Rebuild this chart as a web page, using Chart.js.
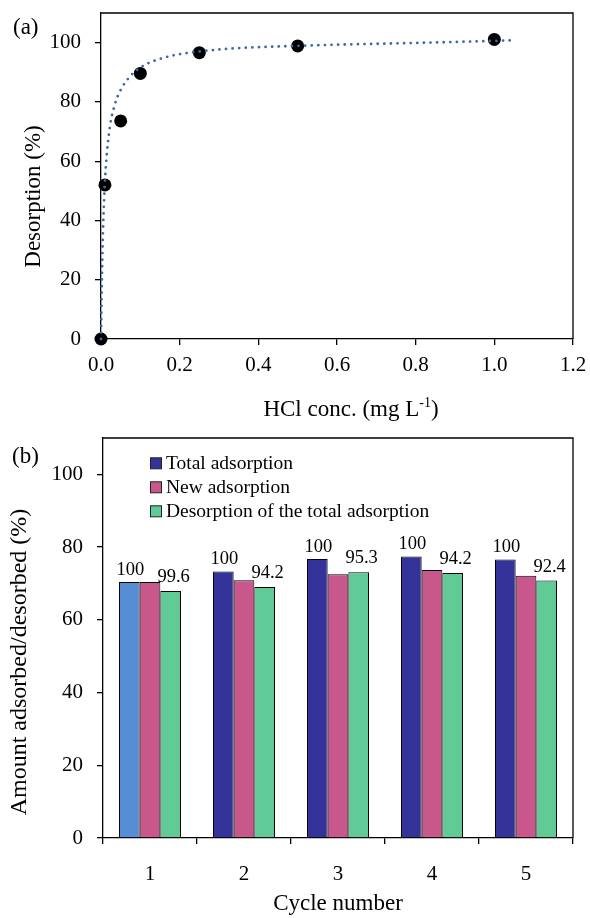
<!DOCTYPE html>
<html>
<head>
<meta charset="utf-8">
<script src="https://cdn.jsdelivr.net/npm/chart.js@4.4.0/dist/chart.umd.min.js"></script>
<style>
  html, body { margin: 0; padding: 0; background: #fff; }
  canvas { display: block; }
</style>
</head>
<body>
<canvas id="chartA" width="590" height="430"></canvas>
<canvas id="chartB" width="590" height="488"></canvas>
<script>
// (a) desorption vs HCl concentration
const hclConc = [0, 0.01, 0.05, 0.1, 0.25, 0.5, 1.0];
const desorption = [0, 52, 73.6, 89.6, 96.6, 98.9, 101.1];
// dotted fit curve
const fitConc = [0, 0.002, 0.005, 0.01, 0.02, 0.035, 0.05, 0.07, 0.1, 0.13, 0.18, 0.25, 0.33, 0.45, 0.6, 0.8, 1.0, 1.05];
const fitDesorption = [0, 18, 36, 53, 69, 79, 84, 88, 91.6, 93.6, 95.6, 97.0, 98.0, 98.7, 99.3, 99.9, 100.6, 100.8];
const xTicksA = [0, 0.2, 0.4, 0.6, 0.8, 1.0, 1.2];
const yTicks = [0, 20, 40, 60, 80, 100];

// (b) adsorption / desorption cycles
const cycles = ['1', '2', '3', '4', '5'];
const totalAdsorption = [70.4, 73.3, 76.7, 77.4, 76.6];
const newAdsorption = [70.4, 70.9, 72.5, 73.7, 72.1];
const desorptionOfTotal = [67.9, 69.0, 73.1, 72.9, 70.8];
const totalLabels = ['100', '100', '100', '100', '100'];
const desorptionLabels = ['99.6', '94.2', '95.3', '94.2', '92.4'];

const serif = "'Liberation Serif', 'Times New Roman', serif";
Chart.defaults.font.family = serif;
Chart.defaults.color = '#000';

const navy = '#333399';
const lightBlue = '#558ed5';
const pink = '#c8588c';
const green = '#60cb96';

// top and right border of the plot box
const frame = {
  id: 'frame',
  beforeDatasetsDraw(chart) {
    const { ctx, chartArea: a } = chart;
    ctx.save();
    ctx.strokeStyle = '#000';
    ctx.lineWidth = 1.3;
    ctx.beginPath();
    ctx.moveTo(a.left, a.top);
    ctx.lineTo(a.right, a.top);
    ctx.lineTo(a.right, a.bottom);
    ctx.stroke();
    ctx.restore();
  }
};

// panel letter and rotated y title
const panelText = {
  id: 'panelText',
  afterDraw(chart, args, opts) {
    const { ctx, chartArea: a } = chart;
    ctx.save();
    ctx.fillStyle = '#000';
    ctx.font = '23px ' + serif;
    ctx.textAlign = 'left';
    ctx.textBaseline = 'alphabetic';
    ctx.fillText(opts.panel, opts.panelX, opts.panelY);

    if (opts.xTitle) {
      // title with a superscript part
      const big = '23px ' + serif, small = '14px ' + serif;
      ctx.font = big;
      const w1 = ctx.measureText(opts.xTitle[0]).width;
      const w3 = ctx.measureText(opts.xTitle[2]).width;
      ctx.font = small;
      const w2 = ctx.measureText(opts.xTitle[1]).width;
      let x = opts.xTitleX - (w1 + w2 + w3) / 2;
      ctx.font = big;
      ctx.fillText(opts.xTitle[0], x, opts.xTitleY);
      x += w1;
      ctx.font = small;
      ctx.fillText(opts.xTitle[1], x, opts.xTitleY - 9);
      x += w2;
      ctx.font = big;
      ctx.fillText(opts.xTitle[2], x, opts.xTitleY);
    }

    ctx.translate(opts.yTitleX, (a.top + a.bottom) / 2 + opts.yTitleShift);
    ctx.rotate(-Math.PI / 2);
    ctx.font = opts.yTitleSize + 'px ' + serif;
    ctx.textAlign = 'center';
    ctx.textBaseline = 'middle';
    ctx.fillText(opts.yTitle, 0, 0);
    ctx.restore();
  }
};

const axisGrid = { drawOnChartArea: false, color: '#000', lineWidth: 1.3, tickLength: 6 };
const axisBorder = { color: '#000', width: 1.3 };

function fixX(h) {
  return s => { s.height = h; s.paddingLeft = 0; s.paddingRight = 0; };
}
function fixY(w) {
  return s => { s.width = w; s.paddingTop = 0; s.paddingBottom = 0; };
}

new Chart(document.getElementById('chartA'), {
  type: 'scatter',
  data: {
    datasets: [
      {
        data: fitConc.map((x, i) => ({ x: x, y: fitDesorption[i] })),
        showLine: true,
        pointRadius: 0,
        borderColor: '#3a69a3',
        borderWidth: 2.8,
        borderDash: [0, 6.6],
        borderCapStyle: 'round',
        cubicInterpolationMode: 'monotone',
        clip: false
      },
      {
        data: hclConc.map((x, i) => ({ x: x, y: desorption[i] })),
        showLine: false,
        pointRadius: 6.5,
        pointBackgroundColor: '#000',
        pointBorderColor: '#000',
        pointBorderWidth: 0,
        clip: false
      }
    ]
  },
  options: {
    responsive: false,
    animation: false,
    layout: { padding: { top: 13, right: 17, left: 0, bottom: 0 } },
    plugins: {
      legend: { display: false },
      tooltip: { enabled: false },
      panelText: {
        panel: '(a)', panelX: 13, panelY: 33.5,
        yTitle: 'Desorption (%)', yTitleX: 34, yTitleShift: 20.5, yTitleSize: 23,
        xTitle: ['HCl conc. (mg L', '-1', ')'], xTitleX: 351, xTitleY: 416
      }
    },
    scales: {
      x: {
        type: 'linear',
        min: 0,
        max: 1.2,
        afterBuildTicks(s) { s.ticks = xTicksA.map(v => ({ value: v })); },
        afterFit: fixX(91),
        grid: axisGrid,
        border: axisBorder,
        ticks: { font: { size: 21 }, padding: 8, callback: v => v.toFixed(1) }
      },
      y: {
        min: 0,
        max: 110,
        afterBuildTicks(s) { s.ticks = yTicks.map(v => ({ value: v })); },
        afterFit: fixY(101),
        grid: axisGrid,
        border: axisBorder,
        ticks: { font: { size: 21 }, padding: 14 }
      }
    }
  },
  plugins: [frame, panelText]
});

// value labels over the bars
const barLabels = {
  id: 'barLabels',
  afterDatasetsDraw(chart) {
    const { ctx } = chart;
    ctx.save();
    ctx.font = '18.5px ' + serif;
    ctx.fillStyle = '#000';
    ctx.textAlign = 'center';
    ctx.textBaseline = 'alphabetic';
    chart.getDatasetMeta(0).data.forEach((bar, i) => ctx.fillText(totalLabels[i], bar.x + 1, bar.y - 7.5));
    chart.getDatasetMeta(2).data.forEach((bar, i) => ctx.fillText(desorptionLabels[i], bar.x + 3, bar.y - 9));
    ctx.restore();
  }
};

// legend in the top-left of the plot
const boxLegend = {
  id: 'boxLegend',
  afterDraw(chart) {
    const { ctx } = chart;
    ctx.save();
    ctx.font = '19.5px ' + serif;
    ctx.textAlign = 'left';
    ctx.textBaseline = 'alphabetic';
    chart.data.datasets.forEach((ds, i) => {
      const bg = Array.isArray(ds.backgroundColor) ? ds.backgroundColor[ds.backgroundColor.length - 1] : ds.backgroundColor;
      const y = 39.3 + i * 24;
      ctx.fillStyle = bg;
      ctx.fillRect(150.5, y - 11.5, 11, 11);
      ctx.strokeStyle = '#222';
      ctx.lineWidth = 1;
      ctx.strokeRect(150.5, y - 11.5, 11, 11);
      ctx.fillStyle = '#000';
      ctx.fillText(ds.label, 166, y);
    });
    ctx.restore();
  }
};

new Chart(document.getElementById('chartB'), {
  type: 'bar',
  data: {
    labels: cycles,
    datasets: [
      { label: 'Total adsorption', data: totalAdsorption, backgroundColor: [lightBlue, navy, navy, navy, navy] },
      { label: 'New adsorption', data: newAdsorption, backgroundColor: pink },
      { label: 'Desorption of the total adsorption', data: desorptionOfTotal, backgroundColor: green }
    ]
  },
  options: {
    responsive: false,
    animation: false,
    layout: { padding: { top: 8, right: 17, left: 0, bottom: 0 } },
    datasets: {
      bar: { categoryPercentage: 0.66, barPercentage: 1, borderColor: '#000', borderWidth: 1 }
    },
    plugins: {
      legend: { display: false },
      tooltip: { enabled: false },
      panelText: {
        panel: '(b)', panelX: 12, panelY: 33,
        yTitle: 'Amount adsorbed/desorbed (%)', yTitleX: 20, yTitleShift: 24, yTitleSize: 24
      }
    },
    scales: {
      x: {
        afterFit: fixX(80),
        grid: Object.assign({ offset: true }, axisGrid),
        border: axisBorder,
        ticks: { font: { size: 21 }, padding: 18 },
        title: { display: true, text: 'Cycle number', font: { size: 23 }, padding: { top: 0, bottom: 0 } }
      },
      y: {
        min: 0,
        max: 110,
        afterBuildTicks(s) { s.ticks = yTicks.map(v => ({ value: v })); },
        afterFit: fixY(103),
        grid: axisGrid,
        border: axisBorder,
        ticks: { font: { size: 21 }, padding: 14 }
      }
    }
  },
  plugins: [frame, barLabels, boxLegend, panelText]
});
</script>
</body>
</html>
